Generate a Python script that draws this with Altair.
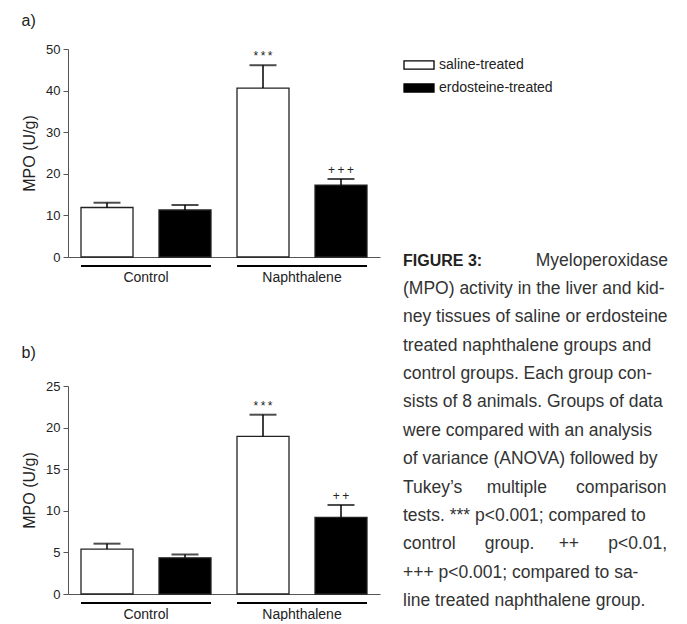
import altair as alt
import pandas as pd

# ---------------- data ----------------
groups = ["Control", "Control", "Naphthalene", "Naphthalene"]
treatments = ["saline-treated", "erdosteine-treated", "saline-treated", "erdosteine-treated"]
group_order = ["Control", "Naphthalene"]
treat_order = ["saline-treated", "erdosteine-treated"]

liver_mean = [11.9, 11.3, 40.6, 17.3]
liver_sem = [1.15, 1.2, 5.5, 1.45]
liver_sig = ["", "", "*\u2009*\u2009*", "+\u2009+\u2009+"]
liver_ticks = [0, 10, 20, 30, 40, 50]

kidney_mean = [5.4, 4.35, 18.95, 9.2]
kidney_sem = [0.65, 0.4, 2.6, 1.5]
kidney_sig = ["", "", "*\u2009*\u2009*", "+\u2009+"]
kidney_ticks = [0, 5, 10, 15, 20, 25]

NB = "\u00a0"
caption_head = ["FIGURE 3:"]
caption_first = ["Myeloperoxidase"]
caption_lines = [
    "(MPO) activity in the liver and kid-",
    "ney tissues of saline or erdosteine",
    "treated naphthalene groups and",
    "control groups. Each group con-",
    "sists of 8 animals. Groups of data",
    "were compared with an analysis",
    "of variance (ANOVA) followed by",
    "Tukey\u2019s" + NB * 5 + "multiple" + NB * 6 + "comparison",
    "tests. *** p<0.001; compared to",
    "control" + NB * 6 + "group." + NB * 5 + "++" + NB * 6 + "p<0.01,",
    "+++ p<0.001; compared to sa-",
    "line treated naphthalene group.",
]

FONT = "Liberation Sans"
TXT = "#222222"
W, H = 312, 208


def panel(mean, sem, sig, ticks, label, title_offset, show_legend):
    df = pd.DataFrame({
        "group": groups,
        "treatment": treatments,
        "mean": mean,
        "upper": [m + s for m, s in zip(mean, sem)],
        "sig": sig,
    })
    gdf = pd.DataFrame({"group": group_order})
    x = alt.X("group:N", sort=group_order,
              scale=alt.Scale(paddingInner=1 / 6, paddingOuter=1 / 12),
              axis=alt.Axis(title=None, ticks=False, domainColor="#555555", domainWidth=1,
                            labelFontSize=14, labelPadding=13, labelColor=TXT, labelAngle=0,
                            labelFont=FONT))
    xo = alt.XOffset("treatment:N", sort=treat_order,
                     scale=alt.Scale(paddingInner=1 / 3, paddingOuter=0))
    ysc = alt.Scale(domain=[ticks[0], ticks[-1]], nice=False)
    yax = alt.Axis(values=ticks, tickSize=5, domainColor="#555555", tickColor="#555555",
                   labelFontSize=13, labelColor=TXT, labelPadding=3, grid=False,
                   title="MPO (U/g)", titleFontSize=16, titleFontWeight="normal",
                   titleColor=TXT, titlePadding=8, labelFont=FONT, titleFont=FONT)
    if show_legend:
        leg = alt.Legend(orient="none", legendX=335, legendY=0, title=None,
                         symbolType="M-1,-0.27H1V0.27H-1Z", symbolSize=900,
                         symbolStrokeColor="black", symbolStrokeWidth=1.3,
                         labelFontSize=14, labelColor=TXT, labelOffset=4, labelFont=FONT,
                         rowPadding=0)
    else:
        leg = None
    base = alt.Chart(df)
    bars = base.mark_bar(stroke="#222222", strokeWidth=1.3).encode(
        x=x, xOffset=xo,
        y=alt.Y("mean:Q", scale=ysc, axis=yax),
        fill=alt.Fill("treatment:N", sort=treat_order,
                      scale=alt.Scale(domain=treat_order, range=["white", "black"]),
                      legend=leg),
    )
    stems = base.mark_rule(color="black", strokeWidth=1.5).encode(
        x=x, xOffset=xo,
        y=alt.Y("upper:Q", scale=ysc, axis=yax), y2="mean:Q",
    )
    caps = base.mark_tick(color="black", thickness=2, size=27).encode(
        x=x, xOffset=xo, y=alt.Y("upper:Q", scale=ysc, axis=yax),
    )
    stars = base.mark_text(fontSize=12, baseline="alphabetic", dy=-5, color=TXT,
                           font=FONT).encode(
        x=x, xOffset=xo, y=alt.Y("upper:Q", scale=ysc, axis=yax), text="sig:N",
    )
    under = alt.Chart(gdf).mark_bar(color="black").encode(
        x=x, y=alt.value(H + 8), y2=alt.value(H + 10),
    )
    return alt.layer(bars, stems, caps, stars, under).properties(
        width=W, height=H,
        title=alt.Title(label, anchor="start", frame="bounds", fontSize=16,
                        fontWeight="normal", color=TXT, font=FONT, offset=title_offset),
    )


pa = panel(liver_mean, liver_sem, liver_sig, liver_ticks, "a)", 14, True)
pb = panel(kidney_mean, kidney_sem, kidney_sig, kidney_ticks, "b)", 19, False)
left = alt.vconcat(pa, pb, spacing=61)

# caption column (origin sits at the top-left of panel a's plot row)
cap_df = pd.DataFrame({"i": list(range(len(caption_lines))), "line": caption_lines})
CX0, CX1 = 8, 273
HEAD_Y = 216.5
body = alt.Chart(cap_df).mark_text(align="left", baseline="alphabetic", fontSize=17.5,
                                   color="#333333", font=FONT).encode(
    x=alt.value(CX0),
    y=alt.Y("i:Q", axis=None,
            scale=alt.Scale(domain=[0, len(caption_lines) - 1], range=[245, 557])),
    text="line:N",
)
head = alt.Chart(pd.DataFrame({"t": caption_head})).mark_text(
    align="left", baseline="alphabetic", fontSize=16, fontWeight="bold",
    color="#222222", font=FONT).encode(x=alt.value(CX0), y=alt.value(HEAD_Y), text="t:N")
first = alt.Chart(pd.DataFrame({"t": caption_first})).mark_text(
    align="right", baseline="alphabetic", fontSize=17.5,
    color="#333333", font=FONT).encode(x=alt.value(CX1), y=alt.value(HEAD_Y), text="t:N")
right = alt.layer(head, first, body).properties(width=275, height=480)

chart = alt.hconcat(left, right, spacing=15).properties(
    padding={"left": 13, "top": 5, "right": 0, "bottom": 0}
).configure(font=FONT).configure_view(stroke=None)

chart.save("out.html", embed_options={"renderer": "svg", "actions": False})
